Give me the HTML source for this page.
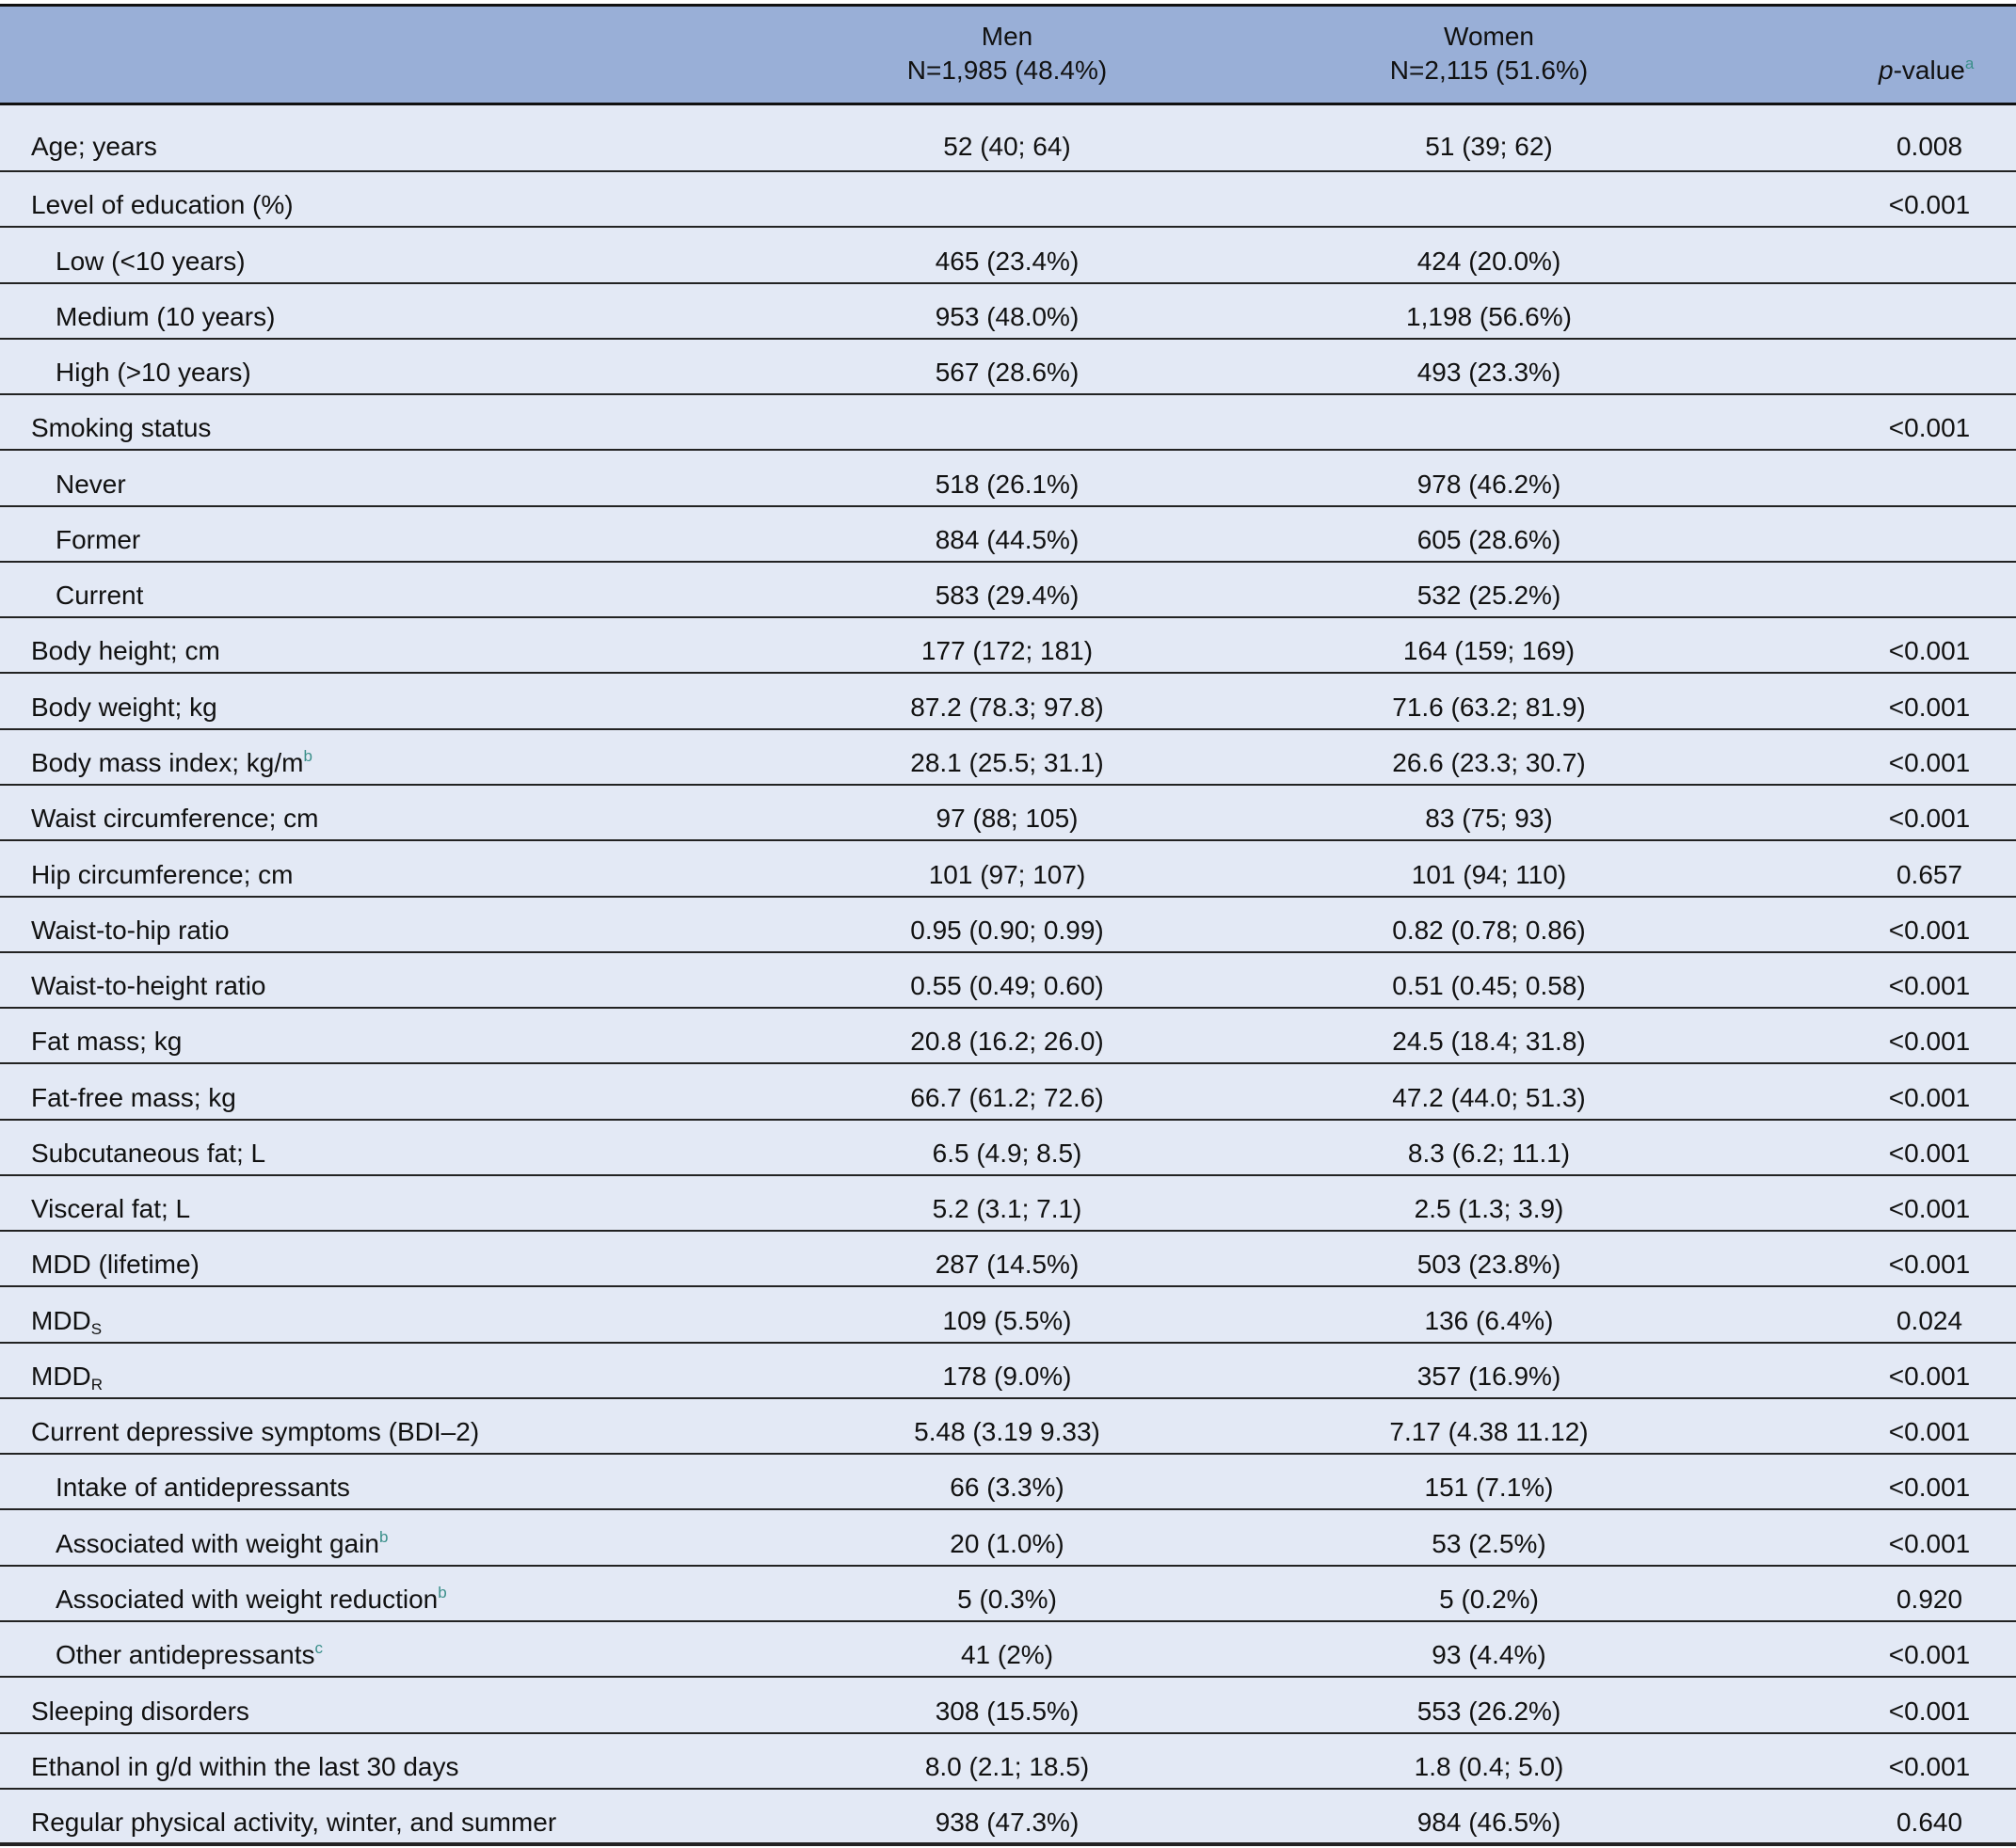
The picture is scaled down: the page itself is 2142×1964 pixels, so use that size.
<!DOCTYPE html>
<html><head><meta charset="utf-8">
<style>
body{margin:0;width:2142px;height:1964px;background:#fff;overflow:hidden;font-family:"Liberation Sans",sans-serif;color:#111;}
#t{position:absolute;left:0;top:0;width:2142px;height:1964px;}
.hdr{position:absolute;left:0;top:4px;width:2142px;height:108px;background:#99afd7;border-top:3px solid #111;border-bottom:3px solid #111;box-sizing:border-box;}
.body{position:absolute;left:0;top:112px;width:2142px;height:1849px;background:#e3e9f5;}
.line{position:absolute;left:0;width:2142px;height:2px;background:#222;}
.tx{position:absolute;font-size:28px;white-space:nowrap;line-height:30px;}
.c{transform:translateX(-50%);}
sup,sub{font-size:17px;line-height:0;position:relative;vertical-align:baseline;}
sup{color:#3a8f8a;top:-11px;}
sub{top:5px;}
</style></head><body>
<div id="t">
<div class="hdr"></div>
<div class="body"></div>
<div class="tx c" style="left:1070px;top:24px">Men</div>
<div class="tx c" style="left:1070px;top:60px">N=1,985 (48.4%)</div>
<div class="tx c" style="left:1582px;top:24px">Women</div>
<div class="tx c" style="left:1582px;top:60px">N=2,115 (51.6%)</div>
<div class="tx" style="left:1996px;top:60px"><i>p</i>-value<sup>a</sup></div>
<div class="line" style="top:1958px;height:4px"></div>
</div>
<script>
const labels=["Age; years","Level of education (%)","Low (<10 years)","Medium (10 years)","High (>10 years)","Smoking status","Never","Former","Current","Body height; cm","Body weight; kg","Body mass index; kg/m<sup>b</sup>","Waist circumference; cm","Hip circumference; cm","Waist-to-hip ratio","Waist-to-height ratio","Fat mass; kg","Fat-free mass; kg","Subcutaneous fat; L","Visceral fat; L","MDD (lifetime)","MDD<sub>S</sub>","MDD<sub>R</sub>","Current depressive symptoms (BDI–2)","Intake of antidepressants","Associated with weight gain<sup>b</sup>","Associated with weight reduction<sup>b</sup>","Other antidepressants<sup>c</sup>","Sleeping disorders","Ethanol in g/d within the last 30 days","Regular physical activity, winter, and summer"];
const indent=[0,0,1,1,1,0,1,1,1,0,0,0,0,0,0,0,0,0,0,0,0,0,0,0,1,1,1,1,0,0,0];
const men=["52 (40; 64)","","465 (23.4%)","953 (48.0%)","567 (28.6%)","","518 (26.1%)","884 (44.5%)","583 (29.4%)","177 (172; 181)","87.2 (78.3; 97.8)","28.1 (25.5; 31.1)","97 (88; 105)","101 (97; 107)","0.95 (0.90; 0.99)","0.55 (0.49; 0.60)","20.8 (16.2; 26.0)","66.7 (61.2; 72.6)","6.5 (4.9; 8.5)","5.2 (3.1; 7.1)","287 (14.5%)","109 (5.5%)","178 (9.0%)","5.48 (3.19 9.33)","66 (3.3%)","20 (1.0%)","5 (0.3%)","41 (2%)","308 (15.5%)","8.0 (2.1; 18.5)","938 (47.3%)"];
const women=["51 (39; 62)","","424 (20.0%)","1,198 (56.6%)","493 (23.3%)","","978 (46.2%)","605 (28.6%)","532 (25.2%)","164 (159; 169)","71.6 (63.2; 81.9)","26.6 (23.3; 30.7)","83 (75; 93)","101 (94; 110)","0.82 (0.78; 0.86)","0.51 (0.45; 0.58)","24.5 (18.4; 31.8)","47.2 (44.0; 51.3)","8.3 (6.2; 11.1)","2.5 (1.3; 3.9)","503 (23.8%)","136 (6.4%)","357 (16.9%)","7.17 (4.38 11.12)","151 (7.1%)","53 (2.5%)","5 (0.2%)","93 (4.4%)","553 (26.2%)","1.8 (0.4; 5.0)","984 (46.5%)"];
const pvals=["0.008","<0.001","","","","<0.001","","","","<0.001","<0.001","<0.001","<0.001","0.657","<0.001","<0.001","<0.001","<0.001","<0.001","<0.001","<0.001","0.024","<0.001","<0.001","<0.001","<0.001","0.920","<0.001","<0.001","<0.001","0.640"];
const t=document.getElementById('t');
const RH=59.27;
function rowTop(i){return i===0?112:182+(i-1)*RH;}
function rowH(i){return i===0?70:RH;}
function add(cls,x,y,html){const d=document.createElement('div');d.className=cls;d.style.left=x+'px';d.style.top=y+'px';d.innerHTML=html;t.appendChild(d);return d;}
labels.forEach((lab,i)=>{
  const top=rowTop(i),h=rowH(i);
  const ty=top+h-(i===0?41:38);
  const a=add('tx',indent[i]?59:33,ty,lab);
  
  
  if(men[i]){const m=add('tx c',1070,ty,men[i]);
    
    }
  if(women[i]){const w=add('tx c',1582,ty,women[i]);
    
    }
  if(pvals[i]){const p=add('tx c',2050,ty,pvals[i]);
    
    }
  if(i<labels.length-1){const l=document.createElement('div');l.className='line';l.style.top=(top+h-1)+'px';
    
    
    t.appendChild(l);}
});
</script>
</body></html>
